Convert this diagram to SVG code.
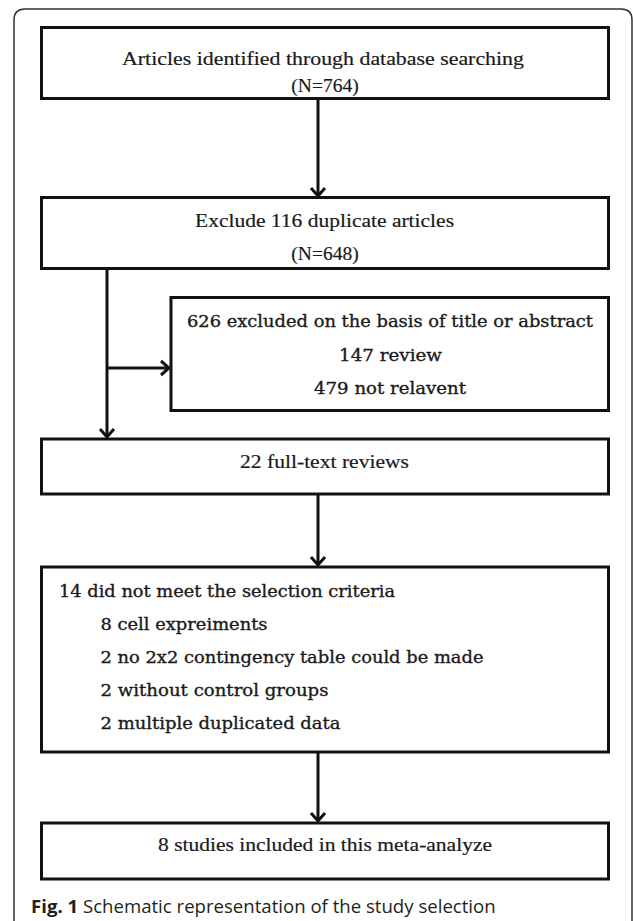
<svg xmlns="http://www.w3.org/2000/svg" width="633" height="921" viewBox="0 0 633 921">
<style>
.box{fill:#fff;stroke:#111;stroke-width:3}
.tn{font-family:"Liberation Serif","Times New Roman",serif;font-size:19.5px;fill:#1a1a1a;stroke:#1a1a1a;stroke-width:0.2}
.cb{font-family:"DejaVu Serif",serif;font-size:17px;fill:#1a1a1a;stroke:#1a1a1a;stroke-width:0.35}
.con{fill:none;stroke:#111;stroke-width:3}
.cap{font-family:"Open Sans","Noto Sans",sans-serif;font-size:18.6px;fill:#231f20}
</style>
<defs>
<marker id="ah" markerUnits="userSpaceOnUse" viewBox="0 0 20 20" refX="16" refY="10" markerWidth="20" markerHeight="20" orient="auto">
<path d="M8,3 L16,10 L8,17" fill="none" stroke="#111" stroke-width="3"/>
</marker>
</defs>
<rect width="633" height="921" fill="#fff"/>
<path d="M14,921 V20 Q14,9 25,9 H621 Q632,9 632,20 V921" fill="none" stroke="#333" stroke-width="1.5"/>
<g id="connectors">
<line class="con" x1="318" y1="99" x2="318" y2="196" marker-end="url(#ah)"/>
<line class="con" x1="107" y1="269" x2="107" y2="437" marker-end="url(#ah)"/>
<line class="con" x1="107" y1="368" x2="169" y2="368" marker-end="url(#ah)"/>
<line class="con" x1="318" y1="494" x2="318" y2="565" marker-end="url(#ah)"/>
<line class="con" x1="318" y1="752" x2="318" y2="821" marker-end="url(#ah)"/>
</g>
<g id="n1">
<rect class="box" x="41.5" y="27.5" width="567" height="71"/>
<text class="tn" x="122" y="65" textLength="402" lengthAdjust="spacingAndGlyphs">Articles identified through database searching</text>
<text class="tn" x="325" y="92" text-anchor="middle">(N=764)</text>
</g>
<g id="n2">
<rect class="box" x="41.5" y="197.5" width="567" height="71"/>
<text class="tn" x="195" y="227" textLength="259" lengthAdjust="spacingAndGlyphs">Exclude 116 duplicate articles</text>
<text class="tn" x="325" y="260" text-anchor="middle">(N=648)</text>
</g>
<g id="n3">
<rect class="box" x="171" y="297.5" width="437.5" height="113"/>
<text class="cb" x="187" y="327" textLength="406" lengthAdjust="spacingAndGlyphs">626 excluded on the basis of title or abstract</text>
<text class="cb" x="339" y="360.5" textLength="103" lengthAdjust="spacingAndGlyphs">147 review</text>
<text class="cb" x="314" y="394" textLength="152" lengthAdjust="spacingAndGlyphs">479 not relavent</text>
</g>
<g id="n4">
<rect class="box" x="41.5" y="439" width="567" height="55"/>
<text class="tn" x="240" y="468" textLength="169" lengthAdjust="spacingAndGlyphs">22 full-text reviews</text>
</g>
<g id="n5">
<rect class="box" x="41.5" y="567" width="567" height="185"/>
<text class="cb" x="59" y="597" textLength="336" lengthAdjust="spacingAndGlyphs">14 did not meet the selection criteria</text>
<text class="cb" x="100.5" y="630" textLength="167" lengthAdjust="spacingAndGlyphs">8 cell expreiments</text>
<text class="cb" x="100.5" y="663" textLength="383" lengthAdjust="spacingAndGlyphs">2 no 2x2 contingency table could be made</text>
<text class="cb" x="100.5" y="696" textLength="228" lengthAdjust="spacingAndGlyphs">2 without control groups</text>
<text class="cb" x="100.5" y="729" textLength="240" lengthAdjust="spacingAndGlyphs">2 multiple duplicated data</text>
</g>
<g id="n6">
<rect class="box" x="41.5" y="823" width="567" height="56"/>
<text class="tn" x="158" y="851" textLength="334" lengthAdjust="spacingAndGlyphs">8 studies included in this meta-analyze</text>
</g>
<g id="caption">
<text class="cap" x="31" y="913"><tspan font-weight="bold">Fig. 1</tspan> Schematic representation of the study selection</text>
</g>
</svg>
